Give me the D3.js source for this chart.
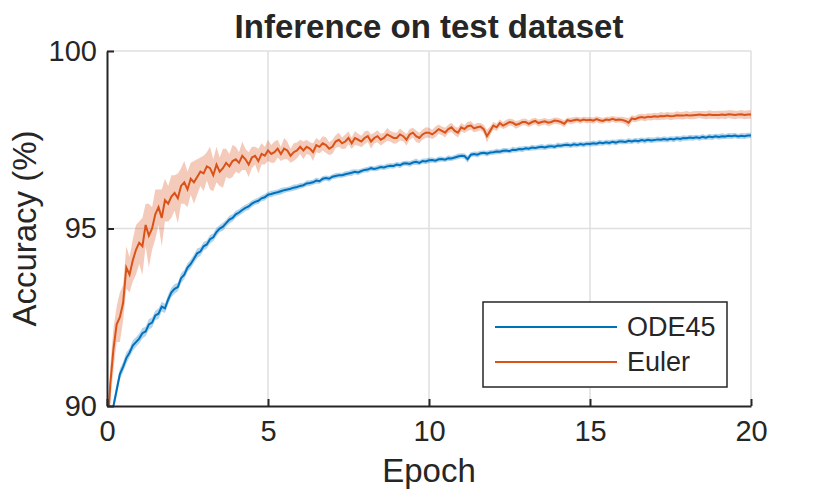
<!DOCTYPE html>
<html>
<head>
<meta charset="utf-8">
<script src="https://cdn.jsdelivr.net/npm/d3@7/dist/d3.min.js"></script>
<style>
body { margin: 0; background: #fff; }
text { font-family: "Liberation Sans", Arial, Helvetica, sans-serif; fill: #262626; }
</style>
</head>
<body>
<svg id="chart" width="830" height="497"></svg>
<script>
// epochs sampled every 0.1
var epochs = d3.range(0, 201).map(function(i){ return i / 10; });

var eulerMean = [
    89.0, 90.6, 91.6, 92.3, 92.5, 92.9, 93.9, 93.7, 94.1, 94.4,
    94.6, 94.5, 95.1, 94.8, 95.0, 95.4, 95.6, 95.3, 95.8, 95.7,
    95.9, 96.0, 95.85, 96.2, 96.3, 96.1, 96.4, 96.3, 96.45, 96.6,
    96.55, 96.75, 96.7, 96.5, 96.8, 96.6, 96.7, 96.85, 96.75, 96.9,
    96.95, 96.85, 97.05, 96.95, 96.8, 97.0, 97.05, 96.9, 97.1, 97.05,
    97.2, 97.1, 97.15, 97.25, 97.1, 97.25, 97.2, 97.05, 97.15, 97.2,
    97.3, 97.2, 97.3, 97.25, 97.15, 97.35, 97.3, 97.4, 97.35, 97.25,
    97.3, 97.45, 97.5, 97.4, 97.45, 97.55, 97.4, 97.55, 97.5, 97.45,
    97.55, 97.6, 97.45, 97.55, 97.6, 97.5, 97.55, 97.65, 97.6, 97.55,
    97.55, 97.65, 97.6, 97.5, 97.65, 97.7, 97.6, 97.55, 97.65, 97.7,
    97.7, 97.65, 97.72, 97.8, 97.75, 97.7, 97.8, 97.85, 97.75, 97.7,
    97.85, 97.8, 97.88, 97.9, 97.82, 97.85, 97.87, 97.8, 97.6, 97.75,
    97.9, 97.85, 97.97, 97.9, 97.95, 98.0, 97.98, 97.92, 97.95, 98.0,
    98.0, 97.95, 98.0, 98.03, 97.97, 98.0, 98.02, 97.98, 98.0, 98.04,
    98.03, 98.0, 97.95, 98.05, 98.03, 98.05, 98.07, 98.04, 98.07, 98.05,
    98.06, 98.04, 98.08, 98.05, 98.03, 98.07, 98.06, 98.09, 98.06, 98.07,
    98.06, 98.03, 97.98, 98.1, 98.08, 98.12, 98.14, 98.12, 98.15, 98.14,
    98.16, 98.15, 98.17, 98.16, 98.18, 98.16, 98.17, 98.19, 98.18, 98.18,
    98.2, 98.18, 98.19, 98.2, 98.21, 98.2, 98.19, 98.21, 98.2, 98.2,
    98.2, 98.21, 98.2, 98.22, 98.21, 98.2, 98.21, 98.22, 98.2, 98.21,
    98.21
];
var eulerSpread = [
    0.3, 0.5, 0.6, 0.5, 0.7, 0.5, 0.6, 0.5, 0.6, 0.7,
    0.6, 0.8, 0.6, 0.9, 0.6, 0.7, 0.5, 0.8, 0.6, 0.5,
    0.6, 0.5, 0.7, 0.5, 0.6, 0.5, 0.45, 0.6, 0.5, 0.4,
    0.5, 0.4, 0.6, 0.45, 0.5, 0.4, 0.55, 0.4, 0.35, 0.45,
    0.35, 0.3, 0.4, 0.3, 0.35, 0.3, 0.25, 0.35, 0.3, 0.25,
    0.3, 0.25, 0.3, 0.25, 0.2, 0.3, 0.25, 0.2, 0.25, 0.22,
    0.2, 0.25, 0.2, 0.18, 0.25, 0.2, 0.18, 0.2, 0.22, 0.18,
    0.2, 0.18, 0.2, 0.16, 0.2, 0.18, 0.16, 0.2, 0.17, 0.16,
    0.18, 0.16, 0.2, 0.15, 0.17, 0.16, 0.15, 0.18, 0.15, 0.16,
    0.15, 0.17, 0.14, 0.16, 0.15, 0.14, 0.16, 0.15, 0.14, 0.15,
    0.14, 0.13, 0.15, 0.13, 0.12, 0.14, 0.12, 0.13, 0.12, 0.14,
    0.12, 0.11, 0.13, 0.12, 0.11, 0.12, 0.1, 0.12, 0.18, 0.12,
    0.11, 0.1, 0.11, 0.1, 0.11, 0.1, 0.1, 0.11, 0.1, 0.09,
    0.1, 0.09, 0.1, 0.09, 0.1, 0.09, 0.09, 0.1, 0.09, 0.09,
    0.09, 0.09, 0.1, 0.08, 0.09, 0.09, 0.08, 0.09, 0.08, 0.09,
    0.08, 0.09, 0.08, 0.09, 0.08, 0.08, 0.09, 0.08, 0.09, 0.08,
    0.09, 0.1, 0.13, 0.09, 0.09, 0.1, 0.09, 0.1, 0.1, 0.1,
    0.1, 0.1, 0.11, 0.1, 0.1, 0.11, 0.1, 0.11, 0.1, 0.11,
    0.11, 0.1, 0.11, 0.11, 0.1, 0.11, 0.11, 0.12, 0.11, 0.11,
    0.12, 0.11, 0.12, 0.11, 0.12, 0.12, 0.11, 0.12, 0.12, 0.12,
    0.12
];
var odeMean = [
    88.5, 89.3, 90.0, 90.45, 90.9, 91.1, 91.35, 91.5, 91.7, 91.8,
    91.9, 92.05, 92.1, 92.3, 92.35, 92.55, 92.6, 92.8, 92.75, 93.0,
    93.2, 93.3, 93.35, 93.6, 93.7, 93.9, 94.0, 94.15, 94.3, 94.35,
    94.5, 94.55, 94.7, 94.75, 94.9, 95.0, 95.05, 95.15, 95.25, 95.3,
    95.4, 95.45, 95.52, 95.58, 95.62, 95.7, 95.75, 95.78, 95.85, 95.88,
    95.95, 95.97, 96.0, 96.02, 96.05, 96.08, 96.1, 96.12, 96.15, 96.17,
    96.2, 96.22, 96.27, 96.28, 96.3, 96.35, 96.33, 96.4, 96.42, 96.4,
    96.46, 96.48, 96.5, 96.5, 96.53, 96.55, 96.57, 96.6, 96.58, 96.62,
    96.65, 96.66, 96.7, 96.68, 96.7, 96.73, 96.72, 96.75, 96.77, 96.76,
    96.8, 96.78, 96.83, 96.84, 96.82, 96.86, 96.88, 96.85, 96.9, 96.89,
    96.92, 96.93, 96.91, 96.95, 96.96, 96.94, 96.98, 96.97, 97.0, 97.03,
    97.05, 97.04, 96.95, 97.08, 97.1, 97.08, 97.12, 97.13, 97.11, 97.14,
    97.15, 97.17, 97.16, 97.19, 97.2, 97.18, 97.22, 97.21, 97.24, 97.23,
    97.26, 97.25, 97.28, 97.27, 97.29, 97.3, 97.28, 97.31, 97.32, 97.3,
    97.34, 97.33, 97.35, 97.36, 97.34, 97.37, 97.35, 97.38, 97.36, 97.39,
    97.38, 97.4, 97.39, 97.42, 97.4, 97.43, 97.41, 97.44, 97.42, 97.45,
    97.45, 97.44, 97.47, 97.45, 97.48, 97.46, 97.49, 97.47, 97.5, 97.48,
    97.49, 97.51, 97.5, 97.52, 97.5, 97.53, 97.51, 97.54, 97.52, 97.55,
    97.54, 97.56, 97.55, 97.57, 97.55, 97.58, 97.56, 97.59, 97.57, 97.6,
    97.58, 97.6, 97.59, 97.61, 97.6, 97.62, 97.59, 97.61, 97.6, 97.62,
    97.62
];
var odeSpread = [
    0.1, 0.15, 0.15, 0.18, 0.15, 0.14, 0.16, 0.13, 0.15, 0.14,
    0.14, 0.15, 0.13, 0.15, 0.14, 0.13, 0.15, 0.14, 0.13, 0.14,
    0.13, 0.14, 0.12, 0.14, 0.13, 0.12, 0.13, 0.12, 0.14, 0.12,
    0.12, 0.11, 0.12, 0.11, 0.12, 0.1, 0.11, 0.1, 0.11, 0.1,
    0.1, 0.09, 0.1, 0.09, 0.1, 0.09, 0.08, 0.09, 0.08, 0.09,
    0.08, 0.09, 0.08, 0.08, 0.09, 0.08, 0.07, 0.08, 0.09, 0.08,
    0.08, 0.07, 0.08, 0.08, 0.07, 0.09, 0.07, 0.08, 0.07, 0.08,
    0.07, 0.08, 0.07, 0.07, 0.08, 0.07, 0.09, 0.07, 0.08, 0.07,
    0.07, 0.08, 0.07, 0.07, 0.08, 0.07, 0.07, 0.08, 0.07, 0.08,
    0.07, 0.08, 0.07, 0.07, 0.08, 0.07, 0.09, 0.07, 0.07, 0.08,
    0.08, 0.07, 0.07, 0.08, 0.07, 0.07, 0.08, 0.07, 0.07, 0.08,
    0.07, 0.08, 0.1, 0.07, 0.07, 0.08, 0.07, 0.07, 0.08, 0.07,
    0.07, 0.08, 0.07, 0.08, 0.07, 0.07, 0.08, 0.07, 0.07, 0.08,
    0.07, 0.07, 0.08, 0.07, 0.07, 0.08, 0.07, 0.08, 0.07, 0.07,
    0.08, 0.07, 0.07, 0.08, 0.07, 0.08, 0.07, 0.07, 0.08, 0.07,
    0.07, 0.08, 0.07, 0.08, 0.07, 0.07, 0.08, 0.07, 0.08, 0.07,
    0.08, 0.07, 0.08, 0.07, 0.07, 0.08, 0.07, 0.08, 0.07, 0.08,
    0.07, 0.08, 0.07, 0.08, 0.08, 0.07, 0.08, 0.07, 0.08, 0.08,
    0.07, 0.08, 0.08, 0.07, 0.08, 0.08, 0.07, 0.08, 0.08, 0.07,
    0.08, 0.08, 0.07, 0.08, 0.08, 0.08, 0.07, 0.08, 0.08, 0.08,
    0.08
];

var xTicks = [0, 5, 10, 15, 20];
var yTicks = [90, 95, 100];
var seriesNames = ['ODE45', 'Euler'];

var series = [
    { name: seriesNames[0], mean: odeMean, spread: odeSpread, color: '#0072BD' },
    { name: seriesNames[1], mean: eulerMean, spread: eulerSpread, color: '#D95319' }
];

var margin = { top: 51, right: 79, bottom: 91, left: 107 };
var width = 830 - margin.left - margin.right;
var height = 497 - margin.top - margin.bottom;

var svg = d3.select('#chart');
var g = svg.append('g').attr('transform', 'translate(' + margin.left + ',' + margin.top + ')');

var x = d3.scaleLinear().domain([0, 20]).range([0, width]);
var y = d3.scaleLinear().domain([90, 100]).range([height, 0]);

svg.append('defs').append('clipPath').attr('id', 'plotclip')
    .append('rect').attr('width', width).attr('height', height);

// grid
g.append('g').selectAll('line').data(xTicks.slice(1)).enter().append('line')
    .attr('x1', function(d){ return x(d); }).attr('x2', function(d){ return x(d); })
    .attr('y1', 0).attr('y2', height)
    .attr('stroke', '#dfdfdf').attr('stroke-width', 1.5);
g.append('g').selectAll('line').data(yTicks.slice(1)).enter().append('line')
    .attr('y1', function(d){ return y(d); }).attr('y2', function(d){ return y(d); })
    .attr('x1', 0).attr('x2', width)
    .attr('stroke', '#dfdfdf').attr('stroke-width', 1.5);

var plot = g.append('g').attr('clip-path', 'url(#plotclip)');

series.forEach(function(s){
    var area = d3.area()
        .x(function(d, i){ return x(epochs[i]); })
        .y0(function(d, i){ return y(s.mean[i] - s.spread[i]); })
        .y1(function(d, i){ return y(s.mean[i] + s.spread[i]); });
    var line = d3.line()
        .x(function(d, i){ return x(epochs[i]); })
        .y(function(d){ return y(d); });
    plot.append('path').attr('d', area(s.mean))
        .attr('fill', s.color).attr('fill-opacity', 0.3);
    plot.append('path').attr('d', line(s.mean))
        .attr('fill', 'none').attr('stroke', s.color).attr('stroke-width', 2);
});

// axes, ticks pointing inward
var xAxis = d3.axisBottom(x).tickValues(xTicks).tickSizeInner(-7).tickSizeOuter(0).tickPadding(14);
var yAxis = d3.axisLeft(y).tickValues(yTicks).tickSizeInner(-7).tickSizeOuter(0).tickPadding(10);

var gx = g.append('g').attr('transform', 'translate(0,' + height + ')').call(xAxis);
var gy = g.append('g').call(yAxis);
[gx, gy].forEach(function(a){
    a.select('.domain').attr('stroke', '#262626').attr('stroke-width', 2);
    a.selectAll('.tick line').attr('stroke', '#262626').attr('stroke-width', 2);
    a.selectAll('.tick text').style('font-size', '29px').attr('fill', '#262626');
});

// labels
svg.append('text').attr('x', margin.left + width / 2).attr('y', 38)
    .attr('text-anchor', 'middle').style('font-size', '33px').style('font-weight', 'bold')
    .attr('fill', '#000').text('Inference on test dataset');
svg.append('text').attr('x', margin.left + width / 2).attr('y', 482)
    .attr('text-anchor', 'middle').style('font-size', '33px').text('Epoch');
svg.append('text')
    .attr('transform', 'translate(36,' + (margin.top + height / 2) + ') rotate(-90)')
    .attr('text-anchor', 'middle').style('font-size', '33px').text('Accuracy (%)');

// legend
var leg = g.append('g').attr('transform', 'translate(' + (483 - margin.left) + ',' + (302 - margin.top) + ')');
leg.append('rect').attr('width', 244).attr('height', 85)
    .attr('fill', '#fff').attr('stroke', '#262626').attr('stroke-width', 1.5);
series.forEach(function(s, i){
    var ly = 25 + i * 35;
    leg.append('line').attr('x1', 12).attr('x2', 134).attr('y1', ly).attr('y2', ly)
        .attr('stroke', s.color).attr('stroke-width', 2);
    leg.append('text').attr('x', 144).attr('y', ly).attr('dy', '0.35em')
        .style('font-size', '27px').attr('fill', '#000').text(s.name);
});
</script>
</body>
</html>
